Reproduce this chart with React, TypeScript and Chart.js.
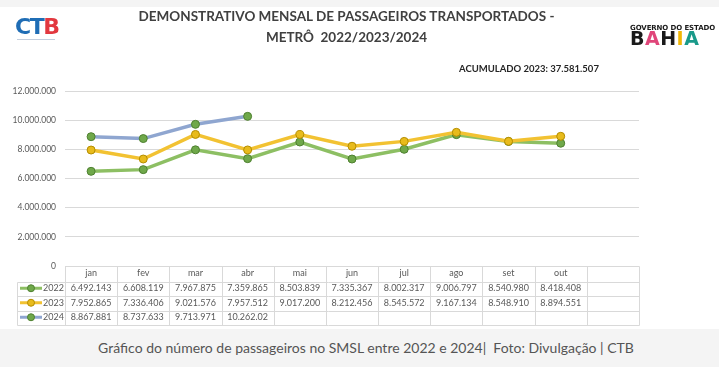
import React, { useEffect, useRef } from 'react';
import { Chart, registerables } from 'chart.js';

Chart.register(...registerables);

// ---------- data ----------
const MONTHS = ['jan', 'fev', 'mar', 'abr', 'mai', 'jun', 'jul', 'ago', 'set', 'out', ''];
const SERIES_NAMES = ['2022', '2023', '2024'];
const VALUES_2022 = [6492143, 6608119, 7967875, 7359865, 8503839, 7335367, 8002317, 9006797, 8540980, 8418408, null];
const VALUES_2023 = [7952865, 7336406, 9021576, 7957512, 9017200, 8212456, 8545572, 9167134, 8548910, 8894551, null];
const VALUES_2024 = [8867881, 8737633, 9713971, 10262020, null, null, null, null, null, null, null];
// text shown in the data table where it differs from the formatted value
const TABLE_TEXT_OVERRIDES: Record<string, string> = { '2:3': '10.262.02' };
const Y_MIN = 0;
const Y_MAX = 12000000;
const Y_STEP = 2000000;
const ACUMULADO_2023 = '37.581.507';

// ---------- styles ----------
const LINE_COLORS = ['#8dbf63', '#f2c232', '#8fa6d0'];
const MARKER_FILLS = ['#6fa84a', '#e8bb1c', '#6fa84a'];
const MARKER_BORDERS = ['#4e8030', '#b48d00', '#4e8030'];
const FONT = 'Lato, sans-serif';
const TEXT_GREY = '#595959';
const GRID = '#d9d9d9';

const fmt = (v: number) => String(v).replace(/\B(?=(\d{3})+(?!\d))/g, '.');

const ALL_VALUES = [VALUES_2022, VALUES_2023, VALUES_2024];

const HEADER_H = 15.5;
const ROW_H = 14.5;
const LABEL_LEFT = 17;

const tablePlugin = {
  id: 'dataTable',
  afterDraw(chart: any) {
    const { ctx, chartArea } = chart;
    const x = chart.scales.x;
    const n = MONTHS.length;
    const colW = x.getPixelForValue(1) - x.getPixelForValue(0);
    const edges: number[] = [];
    for (let i = 0; i < n; i++) edges.push(x.getPixelForValue(i) - colW / 2);
    edges.push(x.getPixelForValue(n - 1) + colW / 2);
    const top = chartArea.bottom;
    const rows = [top, top + HEADER_H];
    for (let r = 0; r < SERIES_NAMES.length; r++) rows.push(rows[rows.length - 1] + ROW_H);
    const px = (v: number) => Math.round(v) + 0.5;
    const line = (x1: number, y1: number, x2: number, y2: number) => {
      ctx.beginPath();
      ctx.moveTo(px(x1), px(y1));
      ctx.lineTo(px(x2), px(y2));
      ctx.stroke();
    };
    ctx.save();
    ctx.strokeStyle = GRID;
    ctx.lineWidth = 1;
    line(edges[0], rows[0], edges[n], rows[0]);
    for (let r = 1; r < rows.length; r++) line(LABEL_LEFT, rows[r], edges[n], rows[r]);
    edges.forEach((e) => line(e, rows[0], e, rows[rows.length - 1]));
    line(LABEL_LEFT, rows[1], LABEL_LEFT, rows[rows.length - 1]);

    ctx.fillStyle = TEXT_GREY;
    ctx.font = `9px ${FONT}`;
    ctx.textBaseline = 'middle';
    ctx.textAlign = 'center';
    MONTHS.forEach((m, i) => ctx.fillText(m, x.getPixelForValue(i), rows[0] + HEADER_H / 2 - 0.5));
    ALL_VALUES.forEach((vals, s) => {
      const cy = rows[s + 1] + ROW_H / 2 - 0.5;
      vals.forEach((v, i) => {
        if (v == null) return;
        const t = TABLE_TEXT_OVERRIDES[`${s}:${i}`] ?? fmt(v);
        ctx.fillStyle = TEXT_GREY;
        ctx.textAlign = 'center';
        ctx.fillText(t, x.getPixelForValue(i), cy);
      });
      // legend key
      ctx.strokeStyle = LINE_COLORS[s];
      ctx.lineWidth = 3;
      ctx.beginPath();
      ctx.moveTo(LABEL_LEFT + 3, cy);
      ctx.lineTo(LABEL_LEFT + 25, cy);
      ctx.stroke();
      ctx.beginPath();
      ctx.arc(LABEL_LEFT + 14, cy, 3.5, 0, Math.PI * 2);
      ctx.fillStyle = MARKER_FILLS[s];
      ctx.fill();
      ctx.lineWidth = 1;
      ctx.strokeStyle = MARKER_BORDERS[s];
      ctx.stroke();
      ctx.fillStyle = TEXT_GREY;
      ctx.textAlign = 'left';
      ctx.fillText(SERIES_NAMES[s], LABEL_LEFT + 26, cy);
    });
    ctx.restore();
  },
};

export default function App() {
  const ref = useRef<HTMLCanvasElement>(null);
  useEffect(() => {
    document.body.style.margin = '0';
    const order = [2, 1, 0];
    const chart = new Chart(ref.current as HTMLCanvasElement, {
      type: 'line',
      data: {
        labels: MONTHS,
        datasets: ALL_VALUES.map((vals, s) => ({
          label: SERIES_NAMES[s],
          data: vals,
          order: order[s],
          borderColor: LINE_COLORS[s],
          borderWidth: 3.5,
          pointRadius: 4,
          pointBorderWidth: 1,
          pointBackgroundColor: MARKER_FILLS[s],
          pointBorderColor: MARKER_BORDERS[s],
          tension: 0,
          spanGaps: false,
        })),
      },
      options: {
        responsive: false,
        animation: false,
        layout: { padding: { left: 0, right: 80, top: 84, bottom: 63 } },
        plugins: { legend: { display: false }, tooltip: { enabled: false }, title: { display: false } },
        scales: {
          x: { display: false, offset: true },
          y: {
            min: Y_MIN,
            max: Y_MAX,
            border: { display: false },
            grid: { color: GRID, lineWidth: 1, drawTicks: false },
            afterFit: (s: any) => {
              s.width = 65;
            },
            ticks: {
              stepSize: Y_STEP,
              padding: 9,
              color: TEXT_GREY,
              font: { family: FONT, size: 8.5 },
              callback: (v: any) => fmt(Number(v)),
            },
          },
        },
      },
      plugins: [tablePlugin],
    } as any);
    return () => chart.destroy();
  }, []);

  return (
    <div style={{ position: 'relative', width: 719, height: 367, background: '#f4f4f4', overflow: 'hidden' }}>
      <div style={{ position: 'absolute', left: 0, top: 7, width: 719, height: 322, background: '#fff' }}>
        <canvas ref={ref} width={719} height={322} style={{ position: 'absolute', left: 0, top: 0 }} />
        <div
          style={{
            position: 'absolute', left: 0, top: 1, width: 693, textAlign: 'center',
            font: 'bold 13.5px Lato, sans-serif', lineHeight: '17px', color: '#404040', whiteSpace: 'pre',
          }}
        >
          {'DEMONSTRATIVO MENSAL DE PASSAGEIROS TRANSPORTADOS -'}
        </div>
        <div
          style={{
            position: 'absolute', left: 0, top: 22, width: 693, textAlign: 'center',
            font: 'bold 13.5px Lato, sans-serif', lineHeight: '17px', color: '#404040', whiteSpace: 'pre',
          }}
        >
          {'METRÔ  2022/2023/2024'}
        </div>
        <div
          style={{
            position: 'absolute', left: 459, top: 56, font: 'bold 9.5px Lato, sans-serif',
            lineHeight: '12px', color: '#262626', whiteSpace: 'pre',
          }}
        >
          {`ACUMULADO 2023: ${ACUMULADO_2023}`}
        </div>
        {/* CTB logo */}
        <div
          style={{
            position: 'absolute', left: 15, top: 8, font: '900 22px "DejaVu Sans", sans-serif',
            lineHeight: '24px', letterSpacing: '-1.5px', whiteSpace: 'pre', transform: 'scaleY(0.95)',
          }}
        >
          <span style={{ color: '#1f6db5' }}>CT</span>
          <span style={{ color: '#e2383f' }}>B</span>
        </div>
        <div style={{ position: 'absolute', left: 17, top: 32, width: 38, height: 1, background: '#c3cedd' }} />
        {/* Bahia logo */}
        <div
          style={{
            position: 'absolute', left: 630, top: 17, font: 'bold 7px "DejaVu Sans", sans-serif',
            lineHeight: '8px', color: '#1a1a1a', whiteSpace: 'pre', letterSpacing: '-0.1px',
          }}
        >
          GOVERNO DO ESTADO
        </div>
        <div
          style={{
            position: 'absolute', left: 630, top: 23, font: '900 19px "DejaVu Sans", sans-serif',
            lineHeight: '17px', whiteSpace: 'pre', letterSpacing: '0.5px',
          }}
        >
          <span style={{ color: '#1a1a1a' }}>B</span>
          <span style={{ color: '#e0467a' }}>A</span>
          <span style={{ color: '#1a1a1a' }}>H</span>
          <span style={{ color: '#f2b705' }}>I</span>
          <span style={{ color: '#1a9a8a' }}>A</span>
        </div>
      </div>
      <div
        style={{
          position: 'absolute', left: 0, top: 339, width: 732, textAlign: 'center',
          font: '14px Lato, sans-serif', lineHeight: '18px', color: '#555', whiteSpace: 'pre',
        }}
      >
        {'Gráfico do número de passageiros no SMSL entre 2022 e 2024|  Foto: Divulgação | CTB'}
      </div>
    </div>
  );
}
